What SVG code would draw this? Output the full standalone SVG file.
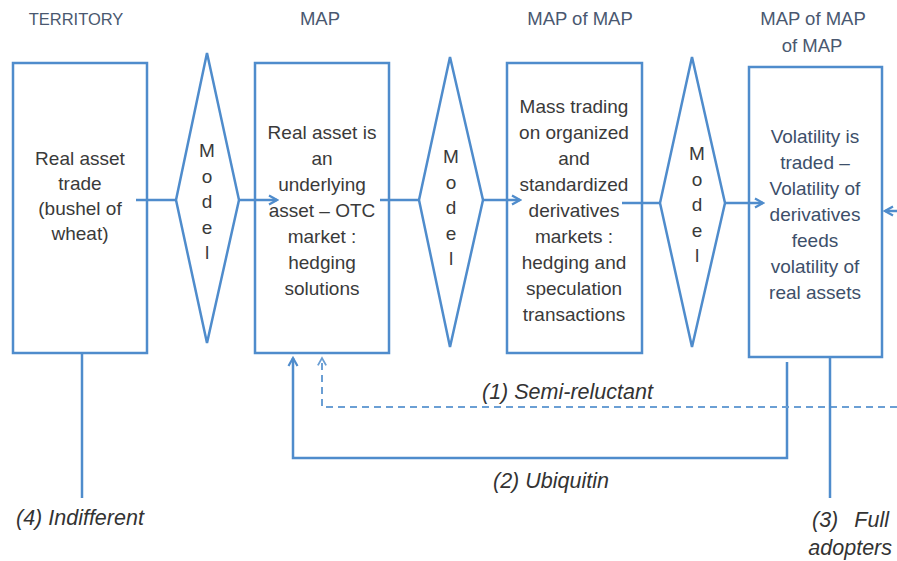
<svg xmlns="http://www.w3.org/2000/svg" width="897" height="561" viewBox="0 0 897 561">
<defs>
<style>
.box{fill:#fff;stroke:#4f8ccc;stroke-width:2.5}
.dia{fill:#fff;stroke:#4f8ccc;stroke-width:2.5;stroke-linejoin:miter}
.ln{fill:none;stroke:#4f8ccc;stroke-width:2.5}
.dash{fill:none;stroke:#6b9fd4;stroke-width:2;stroke-dasharray:7 5}
.t{font-family:"Liberation Sans",Arial,sans-serif;font-size:19px;fill:#3a3a3a;text-anchor:middle}
.tb{font-family:"Liberation Sans",Arial,sans-serif;font-size:19px;fill:#3d4f6a;text-anchor:middle}
.h{font-family:"Liberation Sans",Arial,sans-serif;font-size:17.5px;fill:#4a5870;text-anchor:middle}
.m{font-family:"Liberation Sans",Arial,sans-serif;font-size:19px;fill:#3a3a3a;text-anchor:middle}
.lab{font-family:"Liberation Sans",Arial,sans-serif;font-size:21.5px;font-style:italic;fill:#333}
</style>
<marker id="arr" viewBox="0 0 12 12" refX="10" refY="6" markerWidth="12" markerHeight="12" markerUnits="userSpaceOnUse" orient="auto">
<path d="M2,1.5 L10,6 L2,10.5" fill="none" stroke="#4f8ccc" stroke-width="2.2"/>
</marker>
<marker id="arrd" viewBox="0 0 12 12" refX="10" refY="6" markerWidth="11" markerHeight="11" markerUnits="userSpaceOnUse" orient="auto">
<path d="M2,1.5 L10,6 L2,10.5" fill="none" stroke="#6b9fd4" stroke-width="2"/>
</marker>
</defs>
<rect width="897" height="561" fill="#fff"/>

<g id="headers">
<text class="h" x="76" y="25" style="font-size:16.5px">TERRITORY</text>
<text class="h" x="320" y="25" style="font-size:18.5px">MAP</text>
<text class="h" x="580" y="25" style="font-size:18.5px">MAP of MAP</text>
<text class="h" x="813" y="25" style="font-size:18.5px">MAP of MAP</text>
<text class="h" x="812" y="52" style="font-size:18.5px">of MAP</text>
</g>

<g id="territory">
<rect class="box" x="13" y="63" width="134" height="290"/>
<text class="t" x="80" y="165">Real asset</text>
<text class="t" x="80" y="190">trade</text>
<text class="t" x="80" y="215">(bushel of</text>
<text class="t" x="80" y="240">wheat)</text>
</g>

<g id="model1">
<polygon class="dia" points="207,53 239,200 207,343 176,200"/>
<text class="m" x="207" y="157">M</text>
<text class="m" x="207" y="183">o</text>
<text class="m" x="207" y="208">d</text>
<text class="m" x="207" y="234">e</text>
<text class="m" x="207" y="259">l</text>
</g>

<g id="map">
<rect class="box" x="255" y="63" width="134" height="290"/>
<text class="t" x="322" y="139">Real asset is</text>
<text class="t" x="322" y="165">an</text>
<text class="t" x="322" y="191">underlying</text>
<text class="t" x="322" y="217">asset – OTC</text>
<text class="t" x="322" y="243">market :</text>
<text class="t" x="322" y="269">hedging</text>
<text class="t" x="322" y="295">solutions</text>
</g>

<g id="model2">
<polygon class="dia" points="450,57 483,200 450,347 419,200"/>
<text class="m" x="451" y="163">M</text>
<text class="m" x="451" y="189">o</text>
<text class="m" x="451" y="214">d</text>
<text class="m" x="451" y="240">e</text>
<text class="m" x="451" y="265">l</text>
</g>

<g id="mapofmap">
<rect class="box" x="507" y="63" width="135" height="290"/>
<text class="t" x="574" y="113">Mass trading</text>
<text class="t" x="574" y="139">on organized</text>
<text class="t" x="574" y="165">and</text>
<text class="t" x="574" y="191">standardized</text>
<text class="t" x="574" y="217">derivatives</text>
<text class="t" x="574" y="243">markets :</text>
<text class="t" x="574" y="269">hedging and</text>
<text class="t" x="574" y="295">speculation</text>
<text class="t" x="574" y="321">transactions</text>
</g>

<g id="model3">
<polygon class="dia" points="692,57 725,203 692,347 660,203"/>
<text class="m" x="697" y="160">M</text>
<text class="m" x="697" y="186">o</text>
<text class="m" x="697" y="211">d</text>
<text class="m" x="697" y="237">e</text>
<text class="m" x="697" y="262">l</text>
</g>

<g id="mapofmapofmap">
<rect class="box" x="749" y="67" width="133" height="290"/>
<text class="tb" x="815" y="143">Volatility is</text>
<text class="tb" x="815" y="169">traded –</text>
<text class="tb" x="815" y="195">Volatility of</text>
<text class="tb" x="815" y="221">derivatives</text>
<text class="tb" x="815" y="247">feeds</text>
<text class="tb" x="815" y="273">volatility of</text>
<text class="tb" x="815" y="299">real assets</text>
</g>

<g id="connectors">
<line class="ln" x1="136" y1="200" x2="176" y2="200"/>
<line class="ln" x1="239" y1="200" x2="277" y2="200" marker-end="url(#arr)"/>
<line class="ln" x1="380" y1="200" x2="419" y2="200"/>
<line class="ln" x1="483" y1="200" x2="520" y2="200" marker-end="url(#arr)"/>
<line class="ln" x1="622" y1="203" x2="660" y2="203"/>
<line class="ln" x1="725" y1="203" x2="763" y2="203" marker-end="url(#arr)"/>
<line class="ln" x1="900" y1="211" x2="885" y2="211" marker-end="url(#arr)"/>
<polyline class="ln" points="787,362 787,458 293,458 293,358" marker-end="url(#arr)"/>
<polyline class="dash" points="897,407 322,407 322,358" marker-end="url(#arrd)"/>
<line class="ln" x1="830" y1="357" x2="830" y2="498"/>
<line class="ln" x1="82" y1="353" x2="82" y2="498"/>
</g>

<g id="labels">
<text class="lab" x="482" y="399">(1) Semi-reluctant</text>
<text class="lab" x="493" y="488">(2) Ubiquitin</text>
<text class="lab" x="812" y="527">(3)</text>
<text class="lab" x="889" y="527" text-anchor="end">Full</text>
<text class="lab" x="892" y="555" text-anchor="end">adopters</text>
<text class="lab" x="16" y="525">(4) Indifferent</text>
</g>
</svg>
